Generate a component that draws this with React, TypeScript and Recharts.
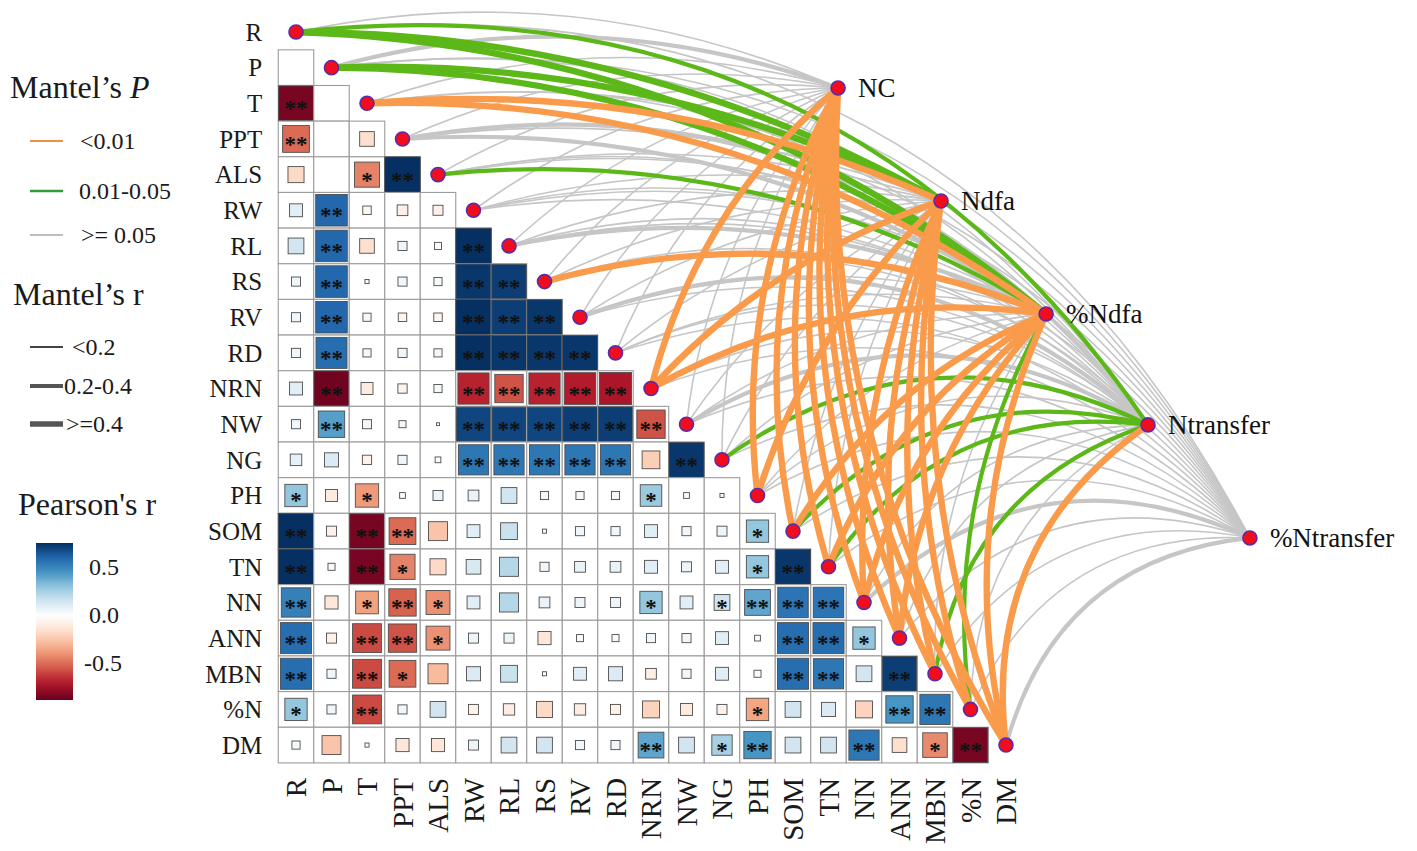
import React from "react";
import { ScatterChart, Scatter, XAxis, YAxis } from "recharts";

const VARS = ["R", "P", "T", "PPT", "ALS", "RW", "RL", "RS", "RV", "RD", "NRN", "NW", "NG", "PH", "SOM", "TN", "NN", "ANN", "MBN", "%N", "DM"];

// Pearson's r, lower triangle: each row holds the columns left of the diagonal
const rP = [0];
const rT = [-0.84, 0];
const rPPT = [-0.5, 0, -0.15];
const rALS = [-0.18, 0, -0.44, 0.76];
const rRW = [0.1, 0.6, -0.05, -0.08, -0.07];
const rRL = [0.15, 0.6, -0.15, 0.05, 0.03, 0.76];
const rRS = [0.05, 0.6, 0.01, 0.05, 0.04, 0.74, 0.72];
const rRV = [0.05, 0.6, 0.04, -0.05, -0.05, 0.76, 0.72, 0.74];
const rRD = [0.05, 0.58, 0.04, 0.05, 0.04, 0.76, 0.74, 0.74, 0.74];
const rNRN = [0.1, -0.86, -0.1, -0.06, 0.04, -0.68, -0.56, -0.68, -0.7, -0.72];
const rNW = [0.05, 0.42, 0.05, 0.03, 0.005, 0.7, 0.7, 0.7, 0.72, 0.72, -0.56];
const rNG = [0.08, 0.12, -0.06, 0.05, 0.02, 0.55, 0.55, 0.55, 0.55, 0.55, -0.22, 0.74];
const rPH = [0.3, -0.1, -0.38, 0.02, 0.06, 0.07, 0.15, 0.04, 0.04, 0.04, 0.28, 0.02, 0.01];
const rSOM = [0.76, -0.07, -0.84, -0.5, -0.25, 0.1, 0.17, 0.01, 0.05, 0.05, 0.1, 0.05, 0.06, 0.3];
const rTN = [0.76, 0.03, -0.84, -0.44, -0.18, 0.13, 0.22, 0.05, 0.07, 0.07, 0.1, 0.06, 0.1, 0.3, 0.74];
const rNN = [0.52, -0.12, -0.36, -0.52, -0.4, 0.1, 0.22, 0.07, 0.06, 0.06, 0.3, 0.1, 0.15, 0.4, 0.56, 0.56];
const rANN = [0.58, -0.07, -0.58, -0.56, -0.4, 0.06, 0.06, -0.12, 0.03, 0.03, 0.05, 0.05, 0.1, 0.02, 0.58, 0.58, 0.3];
const rMBN = [0.58, 0.05, -0.58, -0.5, -0.28, 0.12, 0.17, 0.01, 0.1, 0.12, -0.08, 0.05, 0.1, 0.03, 0.58, 0.55, 0.15, 0.72];
const rPN = [0.3, 0.05, -0.58, 0.05, 0.15, -0.07, -0.09, -0.18, -0.09, -0.07, -0.2, -0.1, -0.07, -0.35, 0.15, 0.12, -0.2, 0.45, 0.55];
const rDM = [0.04, -0.25, 0.01, -0.12, -0.12, 0.06, 0.15, 0.15, 0.05, 0.05, 0.4, 0.15, 0.25, 0.45, 0.15, 0.15, 0.55, -0.15, -0.42, -0.84];

// significance per cell: 0 none, 1 "*", 2 "**"
const sP = "0";
const sT = "20";
const sPPT = "200";
const sALS = "0012";
const sRW = "02000";
const sRL = "020002";
const sRS = "0200022";
const sRV = "02000222";
const sRD = "020002222";
const sNRN = "0200022222";
const sNW = "02000222222";
const sNG = "000002222202";
const sPH = "1010000000100";
const sSOM = "20220000000001";
const sTN = "202100000000012";
const sNN = "2012100000101222";
const sANN = "20221000000000221";
const sMBN = "202100000000002202";
const sPN = "1020000000000100022";
const sDM = "00000000002012002012";

const ROWS = [rP, rT, rPPT, rALS, rRW, rRL, rRS, rRV, rRD, rNRN, rNW, rNG, rPH, rSOM, rTN, rNN, rANN, rMBN, rPN, rDM];
const SIGS = [sP, sT, sPPT, sALS, sRW, sRL, sRS, sRV, sRD, sNRN, sNW, sNG, sPH, sSOM, sTN, sNN, sANN, sMBN, sPN, sDM];

// Mantel test targets and where they sit (grid units)
const MANTEL = ["NC", "Ndfa", "%Ndfa", "Ntransfer", "%Ntransfer"];
const MANTEL_X = [15.27, 18.17, 21.13, 24.0, 26.87];
const MANTEL_Y = [1.57, 4.74, 7.91, 11.02, 14.19];

// Mantel's P class per variable: 0 "<0.01", 1 "0.01-0.05", 2 ">= 0.05"
const pNC = [2, 2, 2, 2, 2, 2, 2, 2, 2, 2, 0, 2, 2, 0, 0, 0, 0, 0, 0, 0, 0];
const pNdfa = [1, 1, 0, 2, 2, 2, 2, 2, 2, 2, 0, 2, 2, 0, 2, 2, 0, 0, 0, 0, 0];
const pPNdfa = [1, 1, 0, 2, 1, 2, 2, 0, 2, 2, 0, 2, 2, 2, 0, 0, 0, 0, 2, 1, 0];
const pNtransfer = [1, 2, 2, 2, 2, 2, 2, 2, 2, 2, 2, 2, 1, 2, 1, 1, 2, 2, 1, 2, 0];
const pPNtransfer = [2, 2, 2, 2, 2, 2, 2, 2, 2, 2, 2, 2, 2, 2, 2, 2, 2, 2, 2, 2, 2];

// Mantel's r class per variable: 0 "<0.2", 1 "0.2-0.4", 2 ">=0.4"
const mNC = [0, 1, 0, 0, 0, 0, 0, 0, 0, 0, 2, 0, 0, 2, 2, 2, 2, 2, 2, 2, 2];
const mNdfa = [2, 2, 2, 0, 0, 0, 0, 0, 0, 0, 2, 0, 0, 2, 0, 0, 2, 2, 2, 2, 2];
const mPNdfa = [2, 2, 2, 1, 1, 0, 1, 2, 0, 0, 2, 0, 0, 0, 2, 2, 2, 2, 0, 1, 2];
const mNtransfer = [1, 0, 0, 1, 0, 0, 0, 0, 1, 0, 0, 1, 1, 0, 1, 1, 0, 0, 1, 0, 2];
const mPNtransfer = [0, 0, 0, 0, 0, 0, 0, 0, 0, 0, 0, 0, 0, 0, 0, 0, 1, 0, 0, 0, 1];

const P_CLASSES = [pNC, pNdfa, pPNdfa, pNtransfer, pPNtransfer];
const R_CLASSES = [mNC, mNdfa, mPNdfa, mNtransfer, mPNtransfer];

const FONT = "'Liberation Serif', 'Times New Roman', serif";
const CW = 35.5;
const CH = 35.65;
const LINK_COLOR = ["#F99B4A", "#5BB818", "#C6C6C6"];
const LINK_WIDTH = [1.6, 4.2, 6.4];
const CURV = [0.16, 0.13, 0.17, 0.3, 0.34];
const R_MAX = 0.76;
const R_MIN = -0.88;

const RDBU = ["#67001F", "#B2182B", "#D6604D", "#F4A582", "#FDDBC7", "#FFFFFF", "#D1E5F0", "#92C5DE", "#4393C3", "#2166AC", "#053061"];

const hex = (h: string) => [1, 3, 5].map((i) => parseInt(h.slice(i, i + 2), 16));

const scaled = (r: number) => (r >= 0 ? Math.min(1, r / R_MAX) : Math.max(-1, r / -R_MIN));

const fillFor = (r: number) => {
  const pos = (scaled(r) + 1) * 5;
  const i = Math.min(9, Math.floor(pos));
  const f = pos - i;
  const a = hex(RDBU[i]);
  const b = hex(RDBU[i + 1]);
  const c = a.map((v, n) => Math.round(v + (b[n] - v) * f));
  return `rgb(${c[0]},${c[1]},${c[2]})`;
};

const cells = ROWS.flatMap((row, k) =>
  row.map((r, j) => ({ x: j, y: k + 1, r, sig: Number(SIGS[k][j]) }))
);
const diagNodes = VARS.map((v, i) => ({ x: i, y: i, name: v }));
const mantelNodes = MANTEL.map((n, k) => ({ x: MANTEL_X[k], y: MANTEL_Y[k], name: n }));

const links: { k: number; i: number; p: number; w: number }[] = [];
MANTEL.forEach((_, k) => {
  VARS.forEach((_, i) => {
    links.push({ k, i, p: P_CLASSES[k][i], w: R_CLASSES[k][i] });
  });
});
// grey underneath, then green, orange on top
links.sort((a, b) => b.p - a.p);

const CellShape = (props: any) => {
  const { cx, cy, payload } = props;
  const t = scaled(payload.r);
  const side = CW * Math.sqrt(Math.abs(t));
  const stars = payload.sig === 2 ? "**" : payload.sig === 1 ? "*" : "";
  return (
    <g>
      <rect x={cx - CW / 2} y={cy - CH / 2} width={CW} height={CH} fill="#fff" stroke="#9c9c9c" strokeWidth={1.1} />
      {side > 1 && (
        <rect
          x={cx - side / 2}
          y={cy - side / 2}
          width={side}
          height={side}
          fill={fillFor(payload.r)}
          stroke="#4d4d4d"
          strokeWidth={0.9}
        />
      )}
      {stars && (
        <text x={cx} y={cy + 13} textAnchor="middle" fontSize={23} fontWeight="bold" fontFamily={FONT} fill="#111">
          {stars}
        </text>
      )}
    </g>
  );
};

const NodeDot = (props: any) => (
  <circle cx={props.cx} cy={props.cy} r={7} fill="#F20D1E" stroke="#5A2CA8" strokeWidth={1.6} />
);

const MantelDot = (props: any) => (
  <g>
    <circle cx={props.cx} cy={props.cy} r={7} fill="#F20D1E" stroke="#5A2CA8" strokeWidth={1.6} />
    <text x={props.cx + 20} y={props.cy} dy="0.35em" fontSize={27} fontFamily={FONT} fill="#111">
      {props.payload.name}
    </text>
  </g>
);

const Empty = () => <g />;

const linkPath = (points: any[], color: string, width: number, curv: number) => {
  if (!points || points.length < 2) return <g />;
  const a = points[0];
  const b = points[1];
  const dx = b.x - a.x;
  const dy = b.y - a.y;
  const qx = (a.x + b.x) / 2 + curv * dy;
  const qy = (a.y + b.y) / 2 - curv * dx;
  return (
    <path d={`M${a.x},${a.y} Q${qx},${qy} ${b.x},${b.y}`} fill="none" stroke={color} strokeWidth={width} />
  );
};

const XTick = (props: any) => {
  const { x, y, payload } = props;
  return (
    <text
      transform={`translate(${x},${y + 15}) rotate(-90)`}
      textAnchor="end"
      dy="0.35em"
      fontSize={29}
      fontFamily={FONT}
      fill="#1a1a1a"
    >
      {VARS[payload.value]}
    </text>
  );
};

const YTick = (props: any) => {
  const { x, y, payload } = props;
  return (
    <text x={x - 16} y={y} dy="0.35em" textAnchor="end" fontSize={25} fontFamily={FONT} fill="#1a1a1a">
      {VARS[payload.value]}
    </text>
  );
};

const Legend = () => {
  const stops = Array.from({ length: 25 }, (_, n) => n / 24);
  const txt = { fontFamily: FONT, fill: "#1a1a1a" };
  return (
    <svg width={215} height={851} style={{ position: "absolute", left: 0, top: 0 }}>
      <defs>
        <linearGradient id="pearsonGrad" x1="0" y1="0" x2="0" y2="1">
          {stops.map((o) => (
            <stop key={o} offset={o} stopColor={fillFor(R_MAX - o * (R_MAX - R_MIN))} />
          ))}
        </linearGradient>
      </defs>

      <text x={10} y={98} fontSize={32} {...txt}>
        Mantel’s <tspan fontStyle="italic">P</tspan>
      </text>
      <line x1={30} x2={63} y1={141} y2={141} stroke="#E8913E" strokeWidth={2} />
      <text x={80} y={141} dy="0.35em" fontSize={24} {...txt}>&lt;0.01</text>
      <line x1={30} x2={63} y1={191} y2={191} stroke="#2E9E3A" strokeWidth={2.4} />
      <text x={79} y={191} dy="0.35em" fontSize={24} {...txt}>0.01-0.05</text>
      <line x1={30} x2={63} y1={235} y2={235} stroke="#BDBDBD" strokeWidth={2} />
      <text x={81} y={235} dy="0.35em" fontSize={24} {...txt}>&gt;= 0.05</text>

      <text x={13} y={305} fontSize={32} {...txt}>Mantel’s r</text>
      <line x1={30} x2={63} y1={347} y2={347} stroke="#444" strokeWidth={1.8} />
      <text x={72} y={347} dy="0.35em" fontSize={24} {...txt}>&lt;0.2</text>
      <line x1={30} x2={63} y1={386} y2={386} stroke="#555" strokeWidth={4} />
      <text x={64} y={386} dy="0.35em" fontSize={24} {...txt}>0.2-0.4</text>
      <line x1={30} x2={63} y1={424} y2={424} stroke="#555" strokeWidth={5.5} />
      <text x={66} y={424} dy="0.35em" fontSize={24} {...txt}>&gt;=0.4</text>

      <text x={18} y={515} fontSize={32} {...txt}>Pearson's r</text>
      <rect x={36} y={543} width={37} height={157} fill="url(#pearsonGrad)" />
      <text x={89} y={567} dy="0.35em" fontSize={24} {...txt}>0.5</text>
      <text x={89} y={615} dy="0.35em" fontSize={24} {...txt}>0.0</text>
      <text x={84} y={663} dy="0.35em" fontSize={24} {...txt}>-0.5</text>
    </svg>
  );
};

export default function App() {
  const tickIdx = VARS.map((_, i) => i);
  return (
    <div style={{ position: "absolute", left: 0, top: 0, width: 1417, height: 851, background: "#fff" }}>
      <ScatterChart
        width={1417}
        height={851}
        margin={{ top: 14.175, right: 38.25, bottom: 28.1, left: 218.25 }}
        style={{ overflow: "visible" }}
      >
        <XAxis
          type="number"
          dataKey="x"
          domain={[-0.5, 30.5]}
          ticks={tickIdx}
          interval={0}
          axisLine={false}
          tickLine={false}
          tickSize={0}
          tickMargin={0}
          height={60}
          tick={(p: any) => <XTick {...p} />}
        />
        <YAxis
          type="number"
          dataKey="y"
          domain={[-0.5, 20.5]}
          reversed
          ticks={tickIdx}
          interval={0}
          axisLine={false}
          tickLine={false}
          tickSize={0}
          tickMargin={0}
          width={60}
          tick={(p: any) => <YTick {...p} />}
        />
        <Scatter data={cells} shape={CellShape} isAnimationActive={false} />
        {links.map((l, n) => (
          <Scatter
            key={`link-${n}`}
            data={[
              { x: l.i, y: l.i },
              { x: MANTEL_X[l.k], y: MANTEL_Y[l.k] },
            ]}
            shape={Empty}
            lineType="joint"
            line={(lp: any) => linkPath(lp.points, LINK_COLOR[l.p], LINK_WIDTH[l.w], CURV[l.k])}
            isAnimationActive={false}
          />
        ))}
        <Scatter data={diagNodes} shape={NodeDot} isAnimationActive={false} />
        <Scatter data={mantelNodes} shape={MantelDot} isAnimationActive={false} />
      </ScatterChart>
      <Legend />
    </div>
  );
}
